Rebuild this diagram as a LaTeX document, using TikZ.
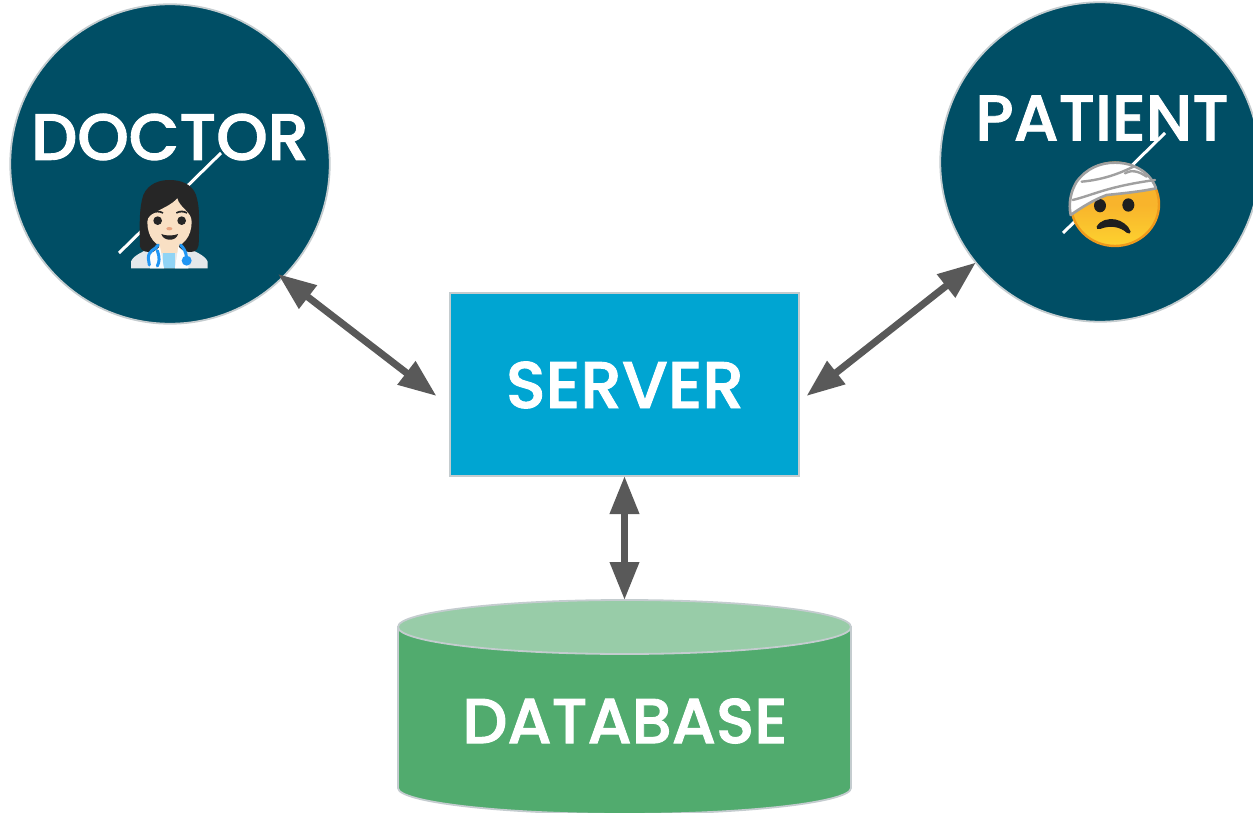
\documentclass[tikz,border=0pt]{standalone}
\usepackage{fontspec}
\setmainfont{Poppins Medium}[FakeBold=1.4]
\usetikzlibrary{arrows.meta,shapes.geometric,calc}
\definecolor{circ}{HTML}{004E65}
\definecolor{edgeg}{HTML}{C4CCCF}
\definecolor{srv}{HTML}{00A5D2}
\definecolor{dbg}{HTML}{51AB6E}
\definecolor{dbl}{HTML}{98CCA8}
\definecolor{arr}{HTML}{595959}
\definecolor{hair}{HTML}{262626}
\definecolor{skin}{HTML}{F9E0C4}
\definecolor{coat}{HTML}{E4E8EA}
\definecolor{steth}{HTML}{2196F3}
\definecolor{shirt}{HTML}{90D4F5}
\definecolor{gold}{HTML}{F8B42C}
\definecolor{goldl}{HTML}{FDD22F}
\definecolor{goldd}{HTML}{EF9A1C}
\definecolor{bandg}{HTML}{A0A0A0}
\tikzset{
  person/.style={circle,draw=edgeg,line width=1.8pt,fill=circ,inner sep=0pt,outer sep=0pt,minimum size=319.5pt},
  label/.style={text=white,inner sep=0pt,font=\fontsize{#1}{#1}\selectfont},
  link/.style={draw=arr,line width=7pt,{Triangle[length=38pt,width=28pt]}-{Triangle[length=38pt,width=28pt]}},
  slash/.style={draw=white,line width=3pt},
}
\begin{document}
\begin{tikzpicture}[x=1pt,y=-1pt]
\useasboundingbox (0,0) rectangle (1253,813);
\clip (0,0) rectangle (1253,813);
\node[person] (doctor) at (170,164) {};
\node[person] (patient) at (1100,162) {};
\node[rectangle,draw=edgeg,line width=1.8pt,fill=srv,inner sep=0pt,outer sep=0pt,minimum width=349pt,minimum height=183pt] (server) at (624.5,384.5) {};
% database
\path[draw=edgeg,line width=1.8pt,fill=dbg] (398,627) -- (398,788) .. controls (398,802) and (500,814) .. (624.5,814) .. controls (749,814) and (851,802) .. (851,788) -- (851,627) -- cycle;
\node[ellipse,draw=edgeg,line width=1.8pt,fill=dbl,inner sep=0pt,outer sep=0pt,minimum width=453pt,minimum height=54pt] (dbtop) at (624.5,627) {};
% labels
\node[label=65.5] (ldoctor) at (170,137) {DOCTOR};
\node[label=64.5] (lpatient) at (1102,118) {PATIENT};
\node[label=66] (lserver) at (625,385) {SERVER};
\node[label=63.5] (ldb) at (625,721) {DATABASE};
% slashes
\coordinate (d1) at (119,253); \coordinate (d2) at (221,153);
\coordinate (p1) at (1063,233); \coordinate (p2) at (1165,133);
\draw[slash] (d1) -- (d2);
\draw[slash] (p1) -- (p2);
% doctor emoji
\begin{scope}[shift={(100,130)},x=.33333pt,y=-.33333pt]
  \fill[coat] (93,415) -- (93,395) .. controls (100,375) and (130,365) .. (170,345) -- (245,345) .. controls (285,365) and (315,375) .. (323,395) -- (323,415) -- cycle;
  \fill[hair] (120,350) .. controls (118,280) and (118,230) .. (130,195) .. controls (145,160) and (180,150) .. (208,150) .. controls (240,150) and (275,160) .. (288,195) .. controls (300,230) and (298,280) .. (296,345) .. controls (292,365) and (280,368) .. (260,365) -- (160,365) .. controls (140,368) and (125,365) .. (120,350) -- cycle;
  \fill[shirt] (190,368) -- (225,368) -- (225,415) -- (190,415) -- cycle;
  \fill[skin] (178,330) rectangle (238,368);
  \fill[skin] (208,355) .. controls (165,352) and (142,320) .. (142,275) .. controls (142,245) and (200,240) .. (232,205) .. controls (240,235) and (275,245) .. (275,275) .. controls (275,320) and (250,352) .. (208,355) -- cycle;
  \fill[white!90!coat] (150,375) -- (180,350) -- (192,415) -- (150,415) -- cycle;
  \fill[white!90!coat] (265,375) -- (235,350) -- (225,415) -- (265,415) -- cycle;
  \fill[black!85] (173,272) circle (13);
  \fill[black!85] (245,272) circle (13);
  \fill[hair] (155,247) .. controls (165,240) and (180,240) .. (190,247) -- (188,251) .. controls (178,246) and (167,246) .. (157,251) -- cycle;
  \fill[hair] (228,247) .. controls (238,240) and (253,240) .. (262,247) -- (260,251) .. controls (250,246) and (240,246) .. (230,251) -- cycle;
  \fill[black!85] (184,312) .. controls (195,318) and (222,318) .. (234,312) .. controls (230,335) and (190,335) .. (184,312) -- cycle;
  \fill[skin!80!red!70!brown] (208,296) ellipse (9 and 5);
  \draw[steth,line width=3pt,line cap=round] (175,345) .. controls (165,360) and (145,360) .. (145,385) -- (148,405) (172,362) .. controls (180,385) and (178,395) .. (172,408) (242,345) .. controls (252,355) and (258,365) .. (260,385);
  \fill[steth] (260,392) circle (15);
\end{scope}
% patient emoji
\begin{scope}[shift={(1050,120)},x=.33333pt,y=-.33333pt]
  \shade[top color=gold,bottom color=goldl,middle color=gold,draw=goldd,line width=2.4pt] (195,253) ellipse (132 and 125);
  \fill[black!88] (150,257) ellipse (18 and 20);
  \fill[black!88] (235,255) ellipse (18 and 20);
  \fill[black!88] (140,320) .. controls (150,300) and (175,295) .. (195,298) .. controls (215,302) and (235,315) .. (242,335) .. controls (243,342) and (235,342) .. (230,338) .. controls (210,320) and (180,315) .. (150,327) .. controls (143,330) and (138,326) .. (140,320) -- cycle;
  \path[fill=white,draw=bandg,line width=2.6pt,line join=round] (62,285) .. controls (55,250) and (62,215) .. (80,185) .. controls (110,145) and (150,128) .. (195,128) .. controls (250,128) and (300,155) .. (318,205) .. controls (270,215) and (220,220) .. (170,225) .. controls (130,240) and (95,262) .. (62,285) -- cycle;
  \draw[bandg,line width=2.4pt,line cap=round] (68,240) .. controls (130,225) and (170,200) .. (315,180);
  \draw[bandg,line width=2.4pt,line cap=round] (95,185) .. controls (150,180) and (200,165) .. (250,140);
  \draw[bandg,line width=2.4pt,line cap=round] (225,160) .. controls (250,145) and (275,160) .. (290,170);
\end{scope}
% connectors
\coordinate (sl) at (436.5,396);
\coordinate (sr) at (806.5,396);
\draw[link] ($(doctor.-45.5)+(-5,-3)$) -- (sl);
\draw[link] (patient.219.5) -- (sr);
\draw[link] (server.south) -- (dbtop.north);
\end{tikzpicture}
\end{document}
